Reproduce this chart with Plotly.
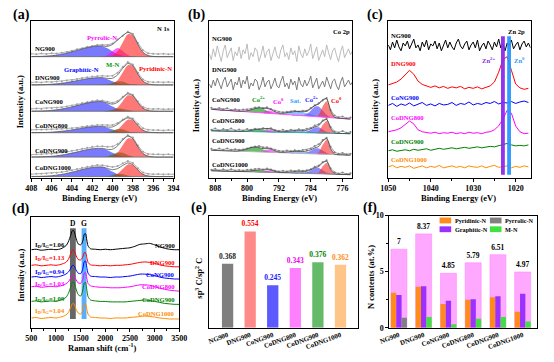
import plotly.graph_objects as go

W, H = 554, 362
FONT = "Liberation Serif, Times New Roman, serif"
SAMPLES = ["NG900", "DNG900", "CoNG900", "CoDNG800", "CoDNG900", "CoDNG1000"]
LINE_COLORS = ["#000000", "#ff0000", "#0000ff", "#ff00ff", "#008000", "#ff8c00"]

# ---------------- (a) N 1s XPS (heights in plot units above each baseline)
XA = [408.0, 407.5, 407.0, 406.5, 406.0, 405.5, 405.0, 404.5, 404.0, 403.5, 403.0, 402.5,
      402.0, 401.5, 401.0, 400.5, 400.0, 399.5, 399.0, 398.5, 398.0, 397.5, 397.0, 396.5,
      396.0, 395.5, 395.0, 394.5, 394.0]
A_BASE = [124, 95, 68, 46, 21, 1]
A_GRAPHITIC = [
    [0.1, 0.2, 0.3, 0.6, 1.0, 1.6, 2.5, 3.6, 5.0, 6.4, 7.9, 9.2, 10.3, 10.9, 10.8, 8.6, 5.4, 2.6, 1.0, 0.3, 0.1, 0, 0, 0, 0, 0, 0, 0, 0],
    [0.1, 0.1, 0.2, 0.4, 0.7, 1.1, 1.7, 2.5, 3.4, 4.4, 5.4, 6.3, 7.0, 7.4, 7.4, 5.9, 3.7, 1.8, 0.7, 0.2, 0.1, 0, 0, 0, 0, 0, 0, 0, 0],
    [0.1, 0.2, 0.3, 0.5, 0.9, 1.5, 2.3, 3.3, 4.5, 5.8, 7.2, 8.4, 9.4, 9.9, 9.8, 7.8, 4.9, 2.4, 0.9, 0.3, 0.1, 0, 0, 0, 0, 0, 0, 0, 0],
    [0.1, 0.1, 0.2, 0.3, 0.6, 1.0, 1.5, 2.1, 2.9, 3.8, 4.7, 5.5, 6.1, 6.4, 6.4, 5.1, 3.2, 1.6, 0.6, 0.2, 0.1, 0, 0, 0, 0, 0, 0, 0, 0],
    [0.1, 0.2, 0.3, 0.5, 0.8, 1.3, 2.1, 3.0, 4.1, 5.2, 6.5, 7.6, 8.5, 8.9, 8.8, 7.0, 4.4, 2.2, 0.8, 0.3, 0.1, 0, 0, 0, 0, 0, 0, 0, 0],
    [0.1, 0.2, 0.3, 0.5, 0.9, 1.5, 2.3, 3.3, 4.5, 5.8, 7.2, 8.4, 9.4, 9.9, 9.8, 7.8, 4.9, 2.4, 0.9, 0.3, 0.1, 0, 0, 0, 0, 0, 0, 0, 0],
]
# Pyrrolic-N for NG900, M-N for the others
A_SECOND = [
    [0, 0, 0, 0, 0, 0, 0, 0, 0, 0, 0, 0, 0, 0, 0.2, 1.7, 5.9, 9.0, 5.9, 1.7, 0.2, 0, 0, 0, 0, 0, 0, 0, 0],
    [0, 0, 0, 0, 0, 0, 0, 0, 0, 0, 0, 0, 0, 0, 0.1, 0.5, 2.0, 3.8, 3.5, 1.6, 0.4, 0.05, 0, 0, 0, 0, 0, 0, 0],
    [0, 0, 0, 0, 0, 0, 0, 0, 0, 0, 0, 0, 0, 0, 0.05, 0.4, 1.5, 2.85, 2.6, 1.2, 0.3, 0.03, 0, 0, 0, 0, 0, 0, 0],
    [0, 0, 0, 0, 0, 0, 0, 0, 0, 0, 0, 0, 0, 0, 0.07, 0.54, 2.0, 3.8, 3.5, 1.6, 0.4, 0.05, 0, 0, 0, 0, 0, 0, 0],
    [0, 0, 0, 0, 0, 0, 0, 0, 0, 0, 0, 0, 0, 0, 0.09, 0.68, 2.55, 4.75, 4.4, 2.05, 0.48, 0.06, 0, 0, 0, 0, 0, 0, 0],
    [0, 0, 0, 0, 0, 0, 0, 0, 0, 0, 0, 0, 0, 0, 0.05, 0.4, 1.5, 2.85, 2.6, 1.2, 0.3, 0.03, 0, 0, 0, 0, 0, 0, 0],
]
A_PYRIDINIC = [
    [0, 0, 0, 0, 0, 0, 0, 0, 0, 0, 0, 0, 0, 0, 0, 0.24, 1.3, 5.5, 14.6, 23.0, 21.8, 12.5, 4.3, 1.2, 0.24, 0, 0, 0, 0],
    [0, 0, 0, 0, 0, 0, 0, 0, 0, 0, 0, 0, 0, 0, 0, 0.2, 1.2, 4.8, 12.8, 20.2, 19.1, 10.9, 3.8, 1.05, 0.2, 0, 0, 0, 0],
    [0, 0, 0, 0, 0, 0, 0, 0, 0, 0, 0, 0, 0, 0, 0, 0.17, 0.9, 3.9, 10.4, 16.3, 15.5, 8.8, 3.1, 0.85, 0.17, 0, 0, 0, 0],
    [0, 0, 0, 0, 0, 0, 0, 0, 0, 0, 0, 0, 0, 0, 0, 0.14, 0.77, 3.2, 8.5, 13.4, 12.7, 7.3, 2.5, 0.7, 0.14, 0, 0, 0, 0],
    [0, 0, 0, 0, 0, 0, 0, 0, 0, 0, 0, 0, 0, 0, 0, 0.2, 1.1, 4.6, 12.2, 19.2, 18.2, 10.4, 3.6, 1.0, 0.2, 0, 0, 0, 0],
    [0, 0, 0, 0, 0, 0, 0, 0, 0, 0, 0, 0, 0, 0, 0, 0.13, 0.7, 3.0, 7.9, 12.5, 11.8, 6.8, 2.3, 0.65, 0.13, 0, 0, 0, 0],
]
A_RAW = [
    [3.0, 2.5, 3.2, 2.8, 3.5, 3.2, 4.0, 4.8, 6.0, 7.5, 8.6, 10.2, 11.0, 12.0, 12.2, 12.0, 13.5, 17.5, 21.5, 25.5, 23.5, 14.0, 6.5, 3.5, 3.0, 2.6, 3.0, 2.5, 2.8],
    [2.5, 3.0, 2.6, 3.2, 3.0, 3.6, 3.5, 4.5, 5.0, 6.0, 7.0, 7.8, 8.6, 9.0, 9.3, 9.0, 9.5, 12.5, 18.5, 23.5, 21.0, 12.5, 5.5, 3.2, 2.8, 3.0, 2.5, 2.9, 2.6],
    [2.5, 2.8, 2.4, 3.0, 3.2, 3.6, 4.2, 5.0, 6.0, 7.2, 8.5, 9.6, 10.6, 11.2, 11.0, 9.8, 8.8, 10.5, 15.0, 19.0, 17.0, 10.0, 4.5, 2.6, 2.2, 2.5, 2.0, 2.4, 2.2],
    [3.0, 3.3, 3.0, 3.4, 3.6, 3.8, 4.0, 4.2, 4.5, 5.2, 6.0, 6.8, 7.4, 7.8, 8.0, 7.6, 7.8, 10.0, 13.5, 16.5, 14.5, 9.0, 4.5, 3.0, 2.6, 2.8, 2.4, 2.7, 2.5],
    [2.5, 3.0, 2.8, 3.4, 3.5, 4.0, 4.6, 5.4, 6.4, 7.4, 8.6, 9.6, 10.5, 11.0, 11.0, 10.5, 10.8, 13.5, 18.5, 22.5, 20.0, 11.8, 5.5, 3.2, 2.8, 3.0, 2.5, 2.8, 2.4],
    [2.5, 2.8, 3.0, 3.2, 3.6, 4.0, 4.6, 5.5, 6.5, 7.8, 9.0, 10.2, 11.2, 11.8, 11.6, 10.5, 9.8, 10.8, 13.8, 16.0, 14.0, 8.5, 4.2, 2.8, 2.4, 2.6, 2.2, 2.5, 2.3],
]

# ---------------- (b) Co 2p XPS
XB = [809, 808, 807, 806, 805, 804, 803, 802, 801, 800, 799, 798, 797, 796, 795, 794, 793, 792,
      791, 790, 789, 788, 787, 786, 785, 784, 783, 782, 781, 780, 779, 778, 777, 776, 775, 774]
XB_FINE = [809.5, 809.0, 808.5, 808.0, 807.5, 807.0, 806.5, 806.0, 805.5, 805.0, 804.5, 804.0, 803.5,
           803.0, 802.5, 802.0, 801.5, 801.0, 800.5, 800.0, 799.5, 799.0, 798.5, 798.0, 797.5, 797.0,
           796.5, 796.0, 795.5, 795.0, 794.5, 794.0, 793.5, 793.0, 792.5, 792.0, 791.5, 791.0, 790.5,
           790.0, 789.5, 789.0, 788.5, 788.0, 787.5, 787.0, 786.5, 786.0, 785.5, 785.0, 784.5, 784.0,
           783.5, 783.0, 782.5, 782.0, 781.5, 781.0, 780.5, 780.0, 779.5, 779.0, 778.5, 778.0, 777.5,
           777.0, 776.5, 776.0, 775.5, 775.0, 774.5, 774.0, 773.5]
B_NG900 = [127, 121, 132, 124, 135, 126, 119, 130, 136, 123, 128, 133, 120, 129, 125, 134, 122, 131, 127, 137,
           121, 128, 124, 133, 130, 119, 126, 135, 123, 129, 132, 120, 127, 134, 125, 122, 131, 136, 124, 128,
           121, 133, 126, 130, 119, 135, 127, 123, 132, 125, 129, 137, 122, 128, 134, 120, 126, 131, 124, 136,
           128, 121, 130, 133, 125, 119, 129, 135, 123, 127, 132, 126, 130]
B_DNG900 = [96, 92, 100, 94, 102, 97, 91, 99, 103, 93, 97, 101, 90, 98, 95, 103, 92, 100, 96, 104,
            91, 97, 94, 101, 99, 90, 95, 103, 93, 98, 100, 91, 96, 102, 94, 92, 99, 104, 93, 97,
            91, 101, 95, 99, 90, 103, 96, 93, 100, 94, 98, 104, 92, 97, 102, 91, 95, 99, 93, 103,
            97, 91, 99, 101, 94, 90, 98, 103, 93, 96, 100, 95, 98]
B_FIT_SAMPLES = ["CoNG900", "CoDNG800", "CoDNG900", "CoDNG1000"]
B_BG = [
    [70.0, 69.7, 69.4, 69.1, 68.9, 68.6, 68.3, 68.0, 67.7, 67.4, 67.1, 66.9, 66.6, 66.3, 66.0, 65.7, 65.4, 65.1,
     64.9, 64.6, 64.3, 64.0, 63.7, 63.4, 63.1, 62.9, 62.6, 62.3, 62.0, 61.7, 61.4, 61.1, 60.9, 60.6, 60.3, 60.0],
    [48.0, 47.9, 47.8, 47.7, 47.7, 47.6, 47.5, 47.4, 47.3, 47.2, 47.1, 47.1, 47.0, 46.9, 46.8, 46.7, 46.6, 46.5,
     46.5, 46.4, 46.3, 46.2, 46.1, 46.0, 45.9, 45.9, 45.8, 45.7, 45.6, 45.5, 45.4, 45.3, 45.3, 45.2, 45.1, 45.0],
    [28.0, 27.9, 27.7, 27.6, 27.4, 27.3, 27.1, 27.0, 26.9, 26.7, 26.6, 26.4, 26.3, 26.1, 26.0, 25.9, 25.7, 25.6,
     25.4, 25.3, 25.1, 25.0, 24.9, 24.7, 24.6, 24.4, 24.3, 24.1, 24.0, 23.9, 23.7, 23.6, 23.4, 23.3, 23.1, 23.0],
    [7.0, 6.9, 6.8, 6.7, 6.5, 6.4, 6.3, 6.2, 6.1, 6.0, 5.9, 5.7, 5.6, 5.5, 5.4, 5.3, 5.2, 5.1,
     4.9, 4.8, 4.7, 4.6, 4.5, 4.4, 4.3, 4.1, 4.0, 3.9, 3.8, 3.7, 3.6, 3.5, 3.3, 3.2, 3.1, 3.0],
]
B_RAW = [
    [1.5, 0.5, 2.0, 1.0, 2.2, 0.8, 1.8, 1.2, 2.0, 2.5, 3.5, 5.0, 5.5, 4.8, 6.0, 4.5, 3.2, 2.5,
     2.0, 3.0, 3.5, 4.6, 4.0, 5.2, 5.5, 8.5, 11.5, 14.0, 17.0, 20.0, 8.0, 2.5, 1.0, 2.0, 0.5, 1.5],
    [1.0, 2.5, 0.5, 2.0, 1.2, 2.8, 0.8, 1.8, 1.0, 2.5, 2.0, 3.0, 2.5, 3.8, 3.2, 4.0, 2.2, 1.5,
     2.5, 1.5, 2.8, 2.2, 3.5, 2.8, 4.2, 5.0, 7.5, 9.0, 13.0, 15.0, 6.5, 2.0, 1.0, 2.5, 0.8, 1.8],
    [1.5, 0.5, 2.0, 1.0, 2.5, 1.2, 2.0, 1.5, 2.0, 3.0, 4.2, 5.5, 6.0, 5.0, 5.0, 4.0, 2.8, 2.0,
     1.5, 2.5, 2.0, 3.0, 2.5, 3.5, 3.8, 5.5, 8.0, 10.0, 14.5, 17.0, 8.0, 2.5, 1.0, 2.0, 0.8, 1.5],
    [1.0, 2.0, 0.5, 1.8, 0.8, 2.2, 1.0, 1.5, 1.2, 2.0, 2.5, 3.0, 3.5, 2.8, 3.8, 3.0, 1.8, 1.2,
     2.0, 1.5, 2.5, 2.2, 3.0, 2.5, 3.2, 4.5, 7.0, 8.5, 12.0, 14.0, 6.0, 2.0, 0.8, 2.0, 0.5, 1.5],
]
# fitted components: (first binding energy of the listed heights, heights)
B_COMP = [
    {"sat": (794, [0.08, 0.22, 0.54, 1.1, 2.0, 2.9, 3.7, 4.0, 3.7, 2.9, 2.0, 1.1, 0.54, 0.22, 0.08]),
     "co2p": (787, [0.06, 0.4, 2.0, 5.7, 10.0, 10.6, 6.7, 2.5, 0.57, 0.08]),
     "co0": (783, [0.09, 1.9, 10.9, 16.5, 6.3, 0.6, 0.02]),
     "co2p_b": (802, [0.09, 0.38, 1.1, 2.4, 3.9, 4.5, 3.9, 2.4, 1.1, 0.38, 0.09]),
     "co0_b": (797, [0.15, 0.9, 2.5, 2.9, 1.5, 0.33, 0.03])},
    {"sat": (794, [0.04, 0.11, 0.27, 0.56, 1.0, 1.5, 1.8, 2.0, 1.8, 1.5, 1.0, 0.56, 0.27, 0.11, 0.04]),
     "co2p": (787, [0.03, 0.22, 1.1, 3.1, 5.5, 5.8, 3.7, 1.4, 0.31, 0.04]),
     "co0": (783, [0.07, 1.4, 8.3, 12.6, 4.8, 0.46, 0.01]),
     "co2p_b": (802, [0.05, 0.2, 0.6, 1.35, 2.15, 2.5, 2.15, 1.35, 0.6, 0.2, 0.05]),
     "co0_b": (797, [0.13, 0.75, 2.05, 2.4, 1.25, 0.28, 0.03])},
    {"sat": (794, [0.04, 0.11, 0.27, 0.56, 1.0, 1.5, 1.8, 2.0, 1.8, 1.5, 1.0, 0.56, 0.27, 0.11, 0.04]),
     "co2p": (787, [0.03, 0.22, 1.1, 3.1, 5.5, 5.8, 3.7, 1.4, 0.31, 0.04]),
     "co0": (783, [0.08, 1.65, 9.6, 14.6, 5.6, 0.5, 0.02]),
     "co2p_b": (803, [0.1, 0.43, 1.25, 2.7, 4.3, 5.0, 4.3, 2.7, 1.25, 0.43, 0.1]),
     "co0_b": (797, [0.15, 0.9, 2.5, 2.9, 1.5, 0.33, 0.03])},
    {"sat": (794, [0.03, 0.08, 0.2, 0.42, 0.74, 1.1, 1.4, 1.5, 1.4, 1.1, 0.74, 0.42, 0.2, 0.08, 0.03]),
     "co2p": (787, [0.03, 0.22, 1.1, 3.1, 5.5, 5.8, 3.7, 1.4, 0.31, 0.04]),
     "co0": (783, [0.06, 1.3, 7.7, 11.6, 4.4, 0.42, 0.01]),
     "co2p_b": (802, [0.04, 0.17, 0.5, 1.1, 1.7, 2.0, 1.7, 1.1, 0.5, 0.17, 0.04]),
     "co0_b": (797, [0.1, 0.6, 1.6, 1.9, 1.0, 0.22, 0.02])},
]
B_COMP_COLORS = {"sat": "rgba(70,150,255,0.6)", "co2p": "rgba(70,70,255,0.62)",
                 "co0": "rgba(255,40,40,0.6)", "co2p_b": "rgba(0,150,0,0.6)",
                 "co0_b": "rgba(255,0,255,0.55)"}
B_BASE_COLORS = ["#ff55ff", "#33aaaa", "#b8b8b8", "#909090"]

# ---------------- (c) Zn 2p XPS
XC = [1050, 1049, 1048, 1047, 1046, 1045, 1044, 1043, 1042, 1041, 1040, 1039, 1038, 1037, 1036, 1035, 1034,
      1033, 1032, 1031, 1030, 1029, 1028, 1027, 1026, 1025, 1024, 1023, 1022, 1021, 1020, 1019, 1018, 1017]
XC_FINE = [1050.0, 1049.5, 1049.0, 1048.5, 1048.0, 1047.5, 1047.0, 1046.5, 1046.0, 1045.5, 1045.0, 1044.5,
           1044.0, 1043.5, 1043.0, 1042.5, 1042.0, 1041.5, 1041.0, 1040.5, 1040.0, 1039.5, 1039.0, 1038.5,
           1038.0, 1037.5, 1037.0, 1036.5, 1036.0, 1035.5, 1035.0, 1034.5, 1034.0, 1033.5, 1033.0, 1032.5,
           1032.0, 1031.5, 1031.0, 1030.5, 1030.0, 1029.5, 1029.0, 1028.5, 1028.0, 1027.5, 1027.0, 1026.5,
           1026.0, 1025.5, 1025.0, 1024.5, 1024.0, 1023.5, 1023.0, 1022.5, 1022.0, 1021.5, 1021.0, 1020.5,
           1020.0, 1019.5, 1019.0, 1018.5, 1018.0, 1017.5, 1017.0, 1016.5]
C_NG900 = [136, 131, 139, 133, 141, 134, 130, 138, 135, 140, 132, 137, 142, 133, 136, 130, 139, 134, 141, 131,
           137, 135, 140, 132, 138, 130, 136, 141, 133, 139, 134, 131, 138, 142, 135, 132, 137, 140, 131, 136,
           139, 133, 141, 130, 135, 138, 132, 140, 136, 131, 139, 134, 142, 133, 137, 130, 138, 135, 141, 132,
           136, 139, 131, 137, 140, 134, 138, 133]
C_Y = [
    None,
    [95, 96.5, 98, 101, 106, 110, 106, 99, 95.5, 94, 92.5, 94, 92, 93.5, 91.5, 93, 92,
     93.5, 91, 92.5, 91.5, 93, 91, 92.5, 94, 98, 108, 121, 124, 110, 96, 92, 90.5, 91.5],
    [74, 76, 73, 75.5, 74, 76.5, 73.5, 75, 77, 74, 75.5, 73.5, 76, 74.5, 75, 77, 74,
     76, 75, 77.5, 74.5, 76, 75, 77, 76, 78, 75.5, 77, 76.5, 78, 76, 77.5, 78.5, 77],
    [47, 48, 49, 51, 55, 58, 55, 49, 47, 46, 45.5, 46.5, 45, 46, 45.5, 46.5, 45,
     46, 45, 46.5, 45.5, 46, 45, 46.5, 47, 49, 53, 60, 69, 66, 53, 47, 45, 45.5],
    [27.5, 28.5, 27, 28, 28.5, 27.5, 29, 28, 28.5, 29.5, 28, 29, 30, 29, 29.5, 30.5, 29.5,
     30, 31, 30, 30.5, 31.5, 30.5, 31, 32, 31.5, 32.5, 34, 35, 33.5, 32.5, 33, 32.5, 33.5],
    [11, 12.5, 10, 11.5, 10.5, 12, 9.5, 11, 12, 10, 11.5, 10.5, 12.5, 10, 11, 12, 10.5,
     11.5, 10, 12, 11, 10.5, 12, 10, 11.5, 12.5, 10.5, 11, 12, 10, 11.5, 10.5, 12, 11],
]
ZN_BANDS = [(1023.45, 1022.55, "rgba(140,40,240,0.95)"), (1022.0, 1021.1, "rgba(40,150,255,0.95)")]

# ---------------- (d) Raman
XD = [500, 600, 700, 800, 900, 1000, 1100, 1200, 1250, 1300, 1325, 1350, 1375, 1400, 1450, 1500, 1525,
      1550, 1575, 1600, 1625, 1650, 1700, 1800, 1900, 2000, 2100, 2200, 2300, 2400, 2500, 2600, 2700,
      2800, 2900, 3000, 3100, 3200, 3300, 3400, 3500]
D_Y = [
    [80, 80.5, 79.5, 80, 80.5, 80, 81, 84, 88, 95, 99, 100, 98, 93, 86, 85, 86.5, 90, 96, 96.5, 90, 84, 81,
     80.5, 80, 80.5, 80, 80.5, 81, 81.5, 82, 83.5, 85.5, 86, 86.5, 85, 83, 81.5, 80.5, 80, 80],
    [64, 64.5, 63.5, 64, 64.5, 64, 65, 67, 70, 76, 79, 80, 78.5, 75, 70, 69.5, 71, 73.5, 77, 77, 72, 67, 64.5,
     64, 63.5, 64, 63.5, 64, 64, 64.5, 65, 66, 67, 67.5, 67, 66, 64.5, 63.5, 63, 62.5, 62.5],
    [52, 52.5, 51.5, 52, 52.5, 52, 53, 55, 57, 61, 63.5, 64, 63, 60, 56, 55.5, 57.5, 62, 68, 68.5, 62, 56, 53,
     52.5, 52, 52, 51.5, 52, 52, 52.5, 53, 54, 55, 55, 54.5, 53.5, 52, 51, 50.5, 50, 50],
    [42, 42.5, 41.5, 42, 42.5, 42, 43, 45, 47, 51, 53.5, 54, 53, 50, 46, 45.5, 47.5, 51, 56, 56.5, 51, 45.5, 43,
     42, 41.5, 41.5, 41, 41, 41, 41.5, 42, 43, 44, 44, 43.5, 42, 40.5, 39.5, 38.5, 38, 37.5],
    [27, 27.5, 26.5, 27, 27.5, 27, 28.5, 31, 35, 42, 46, 47, 45.5, 41, 34, 32.5, 35, 40, 46, 46.5, 39, 32, 28.5,
     27.5, 27, 27, 26.5, 26.5, 26.5, 26.5, 27, 27.5, 28, 28.5, 28, 27, 26, 25, 24.5, 24, 24],
    [10, 10.5, 9.5, 10, 10.5, 10, 11, 13, 15.5, 21, 24, 25, 23.5, 20, 15, 14, 15.5, 19, 24, 24.5, 19, 14, 11,
     10.5, 10, 10, 9.5, 10, 10, 10, 10.5, 11, 11.5, 12, 11.5, 11, 10, 9.5, 9, 9, 9],
]
D_RATIO = ["1.06", "1.13", "0.94", "1.03", "1.09", "1.04"]
RAMAN_BANDS = [(1284, 1402, "rgba(85,85,85,0.9)"), (1520, 1618, "rgba(70,165,255,0.9)")]

# ---------------- (e) sp3/sp2
E_VALUES = [0.368, 0.554, 0.245, 0.343, 0.376, 0.362]
E_COLORS = ["#7f7f7f", "#ff8a8a", "#5a5aff", "#ff80ff", "#66bb6a", "#ffc487"]
E_TEXT_COLORS = ["#222222", "#ff0000", "#2222ff", "#ee00ee", "#008800", "#ff8c1a"]

# ---------------- (f) N contents
F_TOTAL = [7, 8.37, 4.85, 5.79, 6.51, 4.97]
F_PYRIDINIC = [3.13, 3.65, 2.12, 2.49, 2.72, 1.42]
F_GRAPHITIC = [2.93, 3.71, 2.41, 2.55, 2.81, 3.02]
F_PYRROLIC = [0.9, 0, 0, 0, 0, 0]
F_MN = [0, 0.96, 0.32, 0.81, 0.96, 0.55]
F_COLORS = {"Pyridinic-N": "#ff8c1a", "Graphitic-N": "#9b30ff", "Pyrrolic-N": "#808080", "M-N": "#3fe03f"}

# ======================================================================
fig = go.Figure()

S_TICK = 8
S_TITLE = 8.5
S_LAB = 6.6
S_PANEL = 14


def P(x, y):
    return x / W, 1 - y / H


annotations = []


def label(text, x, y, size=S_LAB, color="black", xanchor="center", angle=0):
    xp, yp = P(x, y)
    annotations.append(dict(text=text, x=xp, y=yp, xref="paper", yref="paper", xanchor=xanchor,
                            yanchor="middle", showarrow=False, textangle=angle,
                            font=dict(family=FONT, size=size, color=color, weight="bold")))


def line(x, y, ax, color, width=1.0, shape="linear", mode="lines", msize=2):
    fig.add_trace(go.Scatter(x=x, y=y, mode=mode, xaxis="x" + ax, yaxis="y" + ax,
                             line=dict(color=color, width=width, shape=shape, smoothing=0.7),
                             marker=dict(size=msize, color=color), showlegend=False, hoverinfo="skip"))


def filled(x, ybase, ytop, ax, color):
    fig.add_trace(go.Scatter(x=x, y=ybase, mode="lines", xaxis="x" + ax, yaxis="y" + ax,
                             line=dict(width=0), showlegend=False, hoverinfo="skip"))
    fig.add_trace(go.Scatter(x=x, y=ytop, mode="lines", xaxis="x" + ax, yaxis="y" + ax,
                             line=dict(width=0, shape="spline", smoothing=0.7), fill="tonexty",
                             fillcolor=color, showlegend=False, hoverinfo="skip"))


# ---- (a)
for i, s in enumerate(SAMPLES):
    b = A_BASE[i]
    base = [b for _ in XA]
    second_col = "rgba(255,0,255,0.6)" if i == 0 else "rgba(0,150,0,0.6)"
    for comp, col in [(A_GRAPHITIC[i], "rgba(40,40,255,0.62)"), (A_SECOND[i], second_col),
                      (A_PYRIDINIC[i], "rgba(255,30,30,0.6)")]:
        filled(XA, base, [b + v for v in comp], "", col)
    line([XA[0], XA[-1]], [b, b], "", "#666666", 0.8)
    line(XA, [b + v for v in A_RAW[i]], "", "#a0a0a0", 0.8, mode="lines+markers", msize=2)
    env = [b + g + m + p for g, m, p in zip(A_GRAPHITIC[i], A_SECOND[i], A_PYRIDINIC[i])]
    line(XA, env, "", "#505050", 0.8, shape="spline")

# ---- (b)
line(XB_FINE, B_NG900, "2", "#b4b4b4", 0.9)
line(XB_FINE, B_DNG900, "2", "#6e6e6e", 0.9)
for i, s in enumerate(B_FIT_SAMPLES):
    bg = B_BG[i]
    total = [0.0 for _ in XB]
    for key in ["sat", "co2p", "co0", "co2p_b", "co0_b"]:
        start, vals = B_COMP[i][key]
        i0 = XB.index(start)
        h = [0.0 for _ in XB]
        for k, v in enumerate(vals):
            h[i0 + k] = v
        total = [t + v for t, v in zip(total, h)]
        filled(XB, bg, [g + v for g, v in zip(bg, h)], "2", B_COMP_COLORS[key])
    line(XB, bg, "2", B_BASE_COLORS[i], 1.0)
    line(XB, [g + v for g, v in zip(bg, B_RAW[i])], "2", "#858585", 0.8, mode="lines+markers", msize=2)
    line(XB, [g + v for g, v in zip(bg, total)], "2", "#404040", 0.8, shape="spline")

# ---- (c)
line(XC_FINE, C_NG900, "3", LINE_COLORS[0], 1.0)
for i in range(1, 6):
    line(XC, C_Y[i], "3", LINE_COLORS[i], 1.0)

# ---- (d)
for i, s in enumerate(SAMPLES):
    line(XD, D_Y[i], "4", LINE_COLORS[i], 1.0, shape="spline")

# ---- (e)
fig.add_trace(go.Bar(x=list(range(6)), y=E_VALUES, width=0.5, marker=dict(color=E_COLORS, line=dict(width=0)),
                     text=[f"{v:.3f}" for v in E_VALUES], textposition="outside", cliponaxis=False,
                     constraintext="none",
                     textfont=dict(family=FONT, size=7.5, color=E_TEXT_COLORS, weight="bold"),
                     xaxis="x5", yaxis="y5", showlegend=False, hoverinfo="skip"))

# ---- (f)
fig.add_trace(go.Bar(x=list(range(6)), y=F_TOTAL, width=0.645, marker=dict(color="#ffa8ff", line=dict(color="#ff88ff", width=0.6)),
                     text=[f"{v:g}" for v in F_TOTAL], textposition="outside", cliponaxis=False,
                     constraintext="none",
                     textfont=dict(family=FONT, size=7.5, color="black", weight="bold"),
                     xaxis="x6", yaxis="y6", showlegend=False, hoverinfo="skip"))
for name, vals, off in [("Pyridinic-N", F_PYRIDINIC, -0.3225), ("Graphitic-N", F_GRAPHITIC, -0.1075),
                        ("Pyrrolic-N", F_PYRROLIC, 0.1075), ("M-N", F_MN, 0.1075)]:
    fig.add_trace(go.Bar(x=list(range(6)), y=vals, width=0.215, offset=off, marker=dict(color=F_COLORS[name], line=dict(width=0)),
                         xaxis="x6", yaxis="y6", showlegend=False, hoverinfo="skip"))

# ---- shapes
shapes = []
for x0, x1, col in ZN_BANDS:
    shapes.append(dict(type="rect", xref="x3", yref="y3", x0=x0, x1=x1, y0=3, y1=145,
                       fillcolor=col, line=dict(width=0), layer="above"))
for x0, x1, col in RAMAN_BANDS:
    shapes.append(dict(type="rect", xref="x4", yref="y4", x0=x0, x1=x1, y0=9, y1=102,
                       fillcolor=col, line=dict(width=0), layer="below"))
# legend glyphs of (f)
for (x0, y0), name in [((444, 219), "Pyridinic-N"), ((496, 219), "Pyrrolic-N"),
                       ((444, 228), "Graphitic-N"), ((496, 228), "M-N")]:
    a, b1 = P(x0, y0)
    c, d = P(x0 + 12, y0 + 6)
    shapes.append(dict(type="rect", xref="paper", yref="paper", x0=a, x1=c, y0=d, y1=b1,
                       fillcolor=F_COLORS[name], line=dict(width=0)))
    label(name, x0 + 14, y0 + 3, size=6.2, xanchor="left")

# ---- text
for t, x, y in [("(a)", 12, 11), ("(b)", 193, 11), ("(c)", 377, 11), ("(d)", 11, 210), ("(e)", 195, 209), ("(f)", 372, 209)]:
    label(t, x, y, size=S_PANEL)
for x in (93, 279, 464):
    label("Binding Energy (eV)", x, 199, size=S_TITLE)
for x, y in [(10, 100), (193, 104), (378, 104), (11, 278)]:
    label("Intensity (a.u.)", x, y, size=S_TITLE, angle=-90)
label("Raman shift (cm<sup>-1</sup>)", 95, 352, size=S_TITLE)
label("sp<sup>3</sup> C/sp<sup>2</sup> C", 195, 281, size=S_TITLE, angle=-90)
label("N contents (at.%)", 373, 280, size=S_TITLE, angle=-90)

label("N 1s", 159, 25)
label("Pyrrolic-N", 95, 34, color="#ff00ff")
label("Graphitic-N", 74, 67, color="#0000ff")
label("M-N", 106, 62, color="#009900")
label("Pyridinic-N", 150, 66, color="#ff0000")
for s, y in zip(SAMPLES, [46, 75, 100, 125, 150, 168]):
    label(s, 24, y, xanchor="left")

label("Co 2p", 343, 28)
label("Co<sup>2+</sup>", 257, 97, color="#009900")
label("Co<sup>0</sup>", 277, 99, color="#ff00ff")
label("Sat.", 295, 99, color="#3399ff")
label("Co<sup>2+</sup>", 312, 97, color="#2222ff")
label("Co<sup>0</sup>", 337, 98, color="#ff0000")
for s, y in zip(SAMPLES, [35, 67, 98, 119, 140, 165]):
    label(s, 207, y, xanchor="left")

label("Zn 2p", 524, 28)
label("Zn<sup>2+</sup>", 495, 57, color="#8a2be2")
label("Zn<sup>0</sup>", 527, 57, color="#2a96ff")
for s, y, c in zip(SAMPLES, [32, 61, 96, 116, 141, 159], LINE_COLORS):
    label(s, 392, y, color=c, xanchor="left")

label("D", 65, 225, 7.5)
label("G", 77, 225, 7.5)
for r, y, c in zip(D_RATIO, [247, 260, 275, 287, 303, 315], LINE_COLORS):
    label(f"I<sub>D</sub>/I<sub>G</sub>={r}", 24, y, color=c, xanchor="left")
for s, y, c in zip(SAMPLES, [248, 265, 277, 290, 303, 317], LINE_COLORS):
    label(s, 173, y, color=c, xanchor="right")

# ---- axes
tickfont = dict(family=FONT, size=S_TICK, color="black", weight="bold")
base_ax = dict(showline=True, linecolor="black", linewidth=1, mirror=True, showgrid=False, zeroline=False,
               ticks="outside", ticklen=3, tickwidth=1, tickcolor="black", tickfont=tickfont)
noy = dict(showline=True, linecolor="black", linewidth=1, mirror=True, showgrid=False, zeroline=False,
           ticks="", showticklabels=False)


def dx(a, b):
    return [a / W, b / W]


def dy(top, bottom):
    return [1 - bottom / H, 1 - top / H]


def minor(d):
    return dict(dtick=d, ticks="outside", ticklen=2, tickcolor="black", tickwidth=1)


catfont = dict(tickfont, size=6.8)
layout_axes = dict(
    xaxis=dict(base_ax, domain=dx(22, 169), range=[408, 394], tickmode="linear", tick0=394, dtick=2, minor=minor(1), anchor="y"),
    yaxis=dict(noy, domain=dy(17, 178), range=[0, 161], anchor="x"),
    xaxis2=dict(base_ax, domain=dx(206, 354), range=[809.5, 773.5], tickmode="linear", tick0=776, dtick=8, minor=minor(4), anchor="y2"),
    yaxis2=dict(noy, domain=dy(17, 178), range=[0, 161], anchor="x2"),
    xaxis3=dict(base_ax, domain=dx(391, 538), range=[1050, 1016.5], tickmode="linear", tick0=1020, dtick=10, minor=minor(5), anchor="y3"),
    yaxis3=dict(noy, domain=dy(17, 178), range=[0, 161], anchor="x3"),
    xaxis4=dict(base_ax, domain=dx(22, 175), range=[500, 3500], tickmode="linear", tick0=500, dtick=500, minor=minor(250), anchor="y4"),
    yaxis4=dict(noy, domain=dy(218, 332), range=[0, 114], anchor="x4"),
    xaxis5=dict(base_ax, domain=dx(206, 360), range=[-0.81, 5.79], tickmode="array", tickvals=list(range(6)),
                ticktext=SAMPLES, tickangle=-20, ticks="", tickfont=catfont, anchor="y5"),
    yaxis5=dict(noy, domain=dy(217, 332), range=[0, 0.645], anchor="x5"),
    xaxis6=dict(base_ax, domain=dx(392, 545), range=[-0.39, 5.59], tickmode="array", tickvals=list(range(6)),
                ticktext=SAMPLES, tickangle=-20, ticks="", tickfont=catfont, anchor="y6"),
    yaxis6=dict(base_ax, domain=dy(217, 332), range=[0, 10], tickmode="array", tickvals=[0, 5, 10],
                minor=dict(tickvals=[2.5, 7.5], ticks="outside", ticklen=2, tickcolor="black"), anchor="x6"),
)

fig.update_layout(width=W, height=H, margin=dict(l=0, r=0, t=0, b=0), autosize=False,
                  paper_bgcolor="white", plot_bgcolor="white", barmode="overlay",
                  font=dict(family=FONT, color="black"), showlegend=False,
                  annotations=annotations, shapes=shapes, **layout_axes)
fig.write_html("out.html", config={"displayModeBar": False, "staticPlot": True},
               post_script="document.body.style.margin='0px';document.body.style.padding='0px';")
